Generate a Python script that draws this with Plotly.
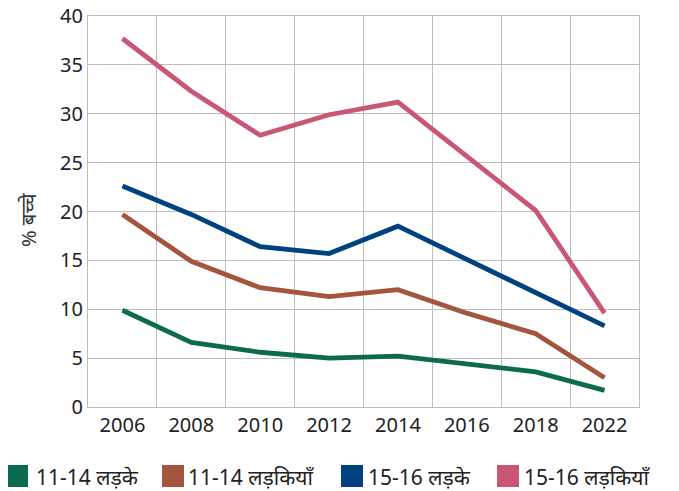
import plotly.graph_objects as go

years = ["2006", "2008", "2010", "2012", "2014", "2016", "2018", "2022"]
boys_11_14 = [9.9, 6.6, 5.6, 5.0, 5.2, 4.4, 3.6, 1.7]
girls_11_14 = [19.7, 14.9, 12.2, 11.3, 12.0, 9.6, 7.5, 3.0]
boys_15_16 = [22.6, 19.7, 16.4, 15.7, 18.5, 15.1, 11.7, 8.3]
girls_15_16 = [37.7, 32.3, 27.8, 29.9, 31.2, 25.6, 20.1, 9.6]

names = ["11-14 लड़के", "11-14 लड़कियाँ", "15-16 लड़के", "15-16 लड़कियाँ"]
series = [boys_11_14, girls_11_14, boys_15_16, girls_15_16]
colors = ["#0c6a51", "#a5543d", "#00427f", "#c95673"]

# figure geometry (px); page body adds an 8px offset, compensated in margins
W, H = 679, 491
ML, MR, MT, MB = 80, 48, 8, 92
PW, PH = W - ML - MR, H - MT - MB


def px_x(fx):
    return (fx - ML) / PW


def px_y(fy):
    return (H - MB - fy) / PH


fig = go.Figure()
for name, vals, col in zip(names, series, colors):
    fig.add_trace(go.Scatter(x=years, y=vals, mode="lines", name=name,
                             line=dict(color=col, width=4.8), showlegend=False))

# legend drawn as squares + labels
sq_left = [-2, 154, 333, 489]
txt_left = [26, 178, 358, 514]
sq_size = 22
sq_top = 457
txt_mid = 469
for name, col, sl, tl in zip(names, colors, sq_left, txt_left):
    fig.add_shape(type="rect", xref="paper", yref="paper",
                  x0=px_x(sl), x1=px_x(sl + sq_size),
                  y0=px_y(sq_top + sq_size), y1=px_y(sq_top),
                  fillcolor=col, line=dict(width=0))
    fig.add_annotation(text=name, xref="paper", yref="paper",
                       x=px_x(tl), y=px_y(txt_mid), xanchor="left", yanchor="middle",
                       showarrow=False, font=dict(size=21, color="#222"))

# y-axis title
fig.add_annotation(text="% बच्चे", xref="paper", yref="paper",
                   x=px_x(20), y=px_y(212), xanchor="center", yanchor="middle",
                   textangle=-90, showarrow=False, font=dict(size=20, color="#333"))

font_family = "Noto Sans, Open Sans, sans-serif"
fig.update_layout(
    width=W, height=H,
    margin=dict(l=ML, r=MR, t=MT, b=MB, autoexpand=False),
    paper_bgcolor="white", plot_bgcolor="white",
    font=dict(family=font_family, size=20, color="#222"),
    showlegend=False,
    xaxis=dict(type="category", categoryorder="array", categoryarray=years,
               tickson="boundaries", showgrid=True, gridcolor="#bdbdbd", gridwidth=1,
               showline=True, linecolor="#bdbdbd", linewidth=1, mirror=True,
               ticks="", tickfont=dict(size=20, color="#222"),
               range=[-0.5, 7.5], ticklabeloverflow="allow"),
    yaxis=dict(range=[0, 40], dtick=5, showgrid=True, gridcolor="#bdbdbd", gridwidth=1,
               showline=True, linecolor="#bdbdbd", linewidth=1, mirror=True,
               zeroline=False, ticks="", tickfont=dict(size=20, color="#222"),
               ticklabeloverflow="allow"),
)

fig.write_html("out.html")
